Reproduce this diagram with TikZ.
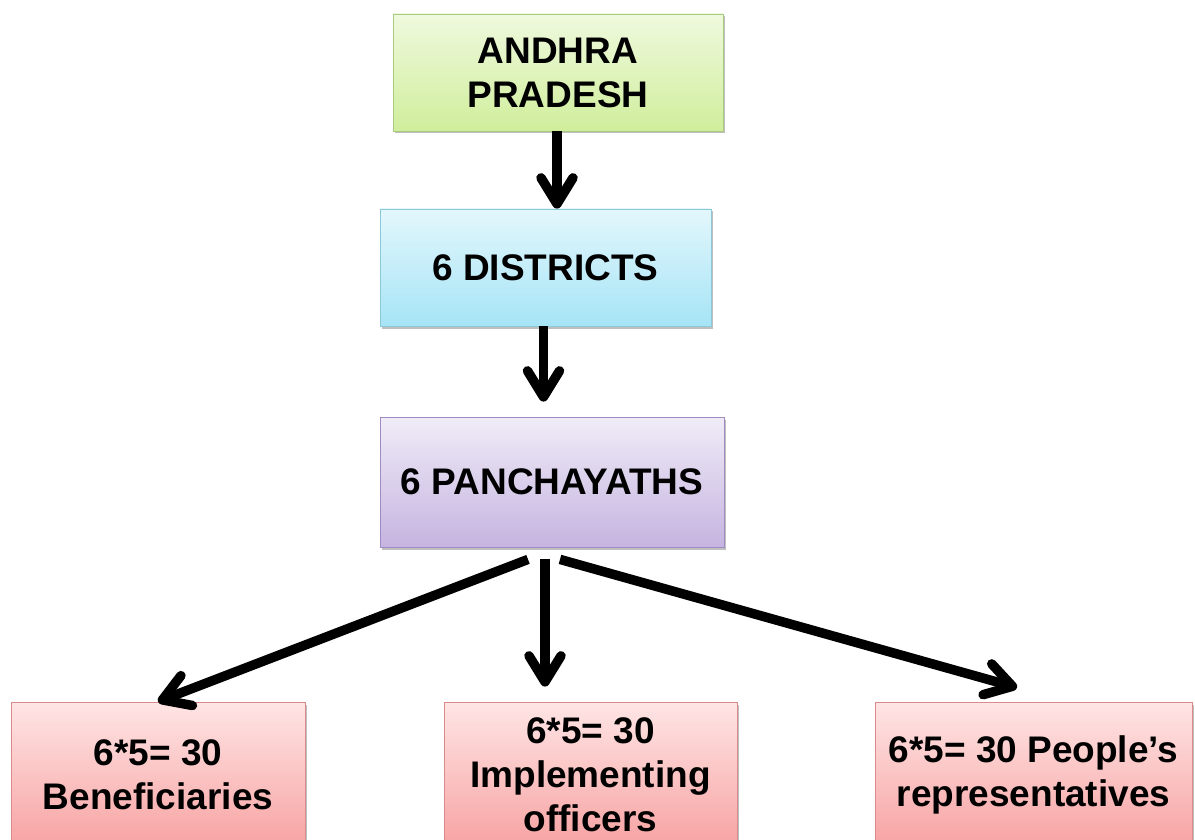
\documentclass[tikz,border=0pt]{standalone}
\usepackage{fontspec}
\setmainfont{Liberation Sans}
\usetikzlibrary{positioning, arrows.meta, shadows}

\definecolor{grTop}{HTML}{EFF9DE}
\definecolor{grBot}{HTML}{D0EE9C}
\definecolor{grLine}{HTML}{A9CB80}
\definecolor{blTop}{HTML}{E3F7FC}
\definecolor{blBot}{HTML}{A6E4F6}
\definecolor{blLine}{HTML}{8CC8DA}
\definecolor{puTop}{HTML}{F0ECF7}
\definecolor{puBot}{HTML}{C5B4E0}
\definecolor{puLine}{HTML}{9F8AC2}
\definecolor{rdTop}{HTML}{FFE5E5}
\definecolor{rdBot}{HTML}{F7A2A2}
\definecolor{rdLine}{HTML}{D98A8A}

\begin{document}
\begin{tikzpicture}[x=1pt, y=-1pt, font=\fontsize{37}{44}\selectfont\bfseries,
    box/.style={rectangle, inner sep=4pt, align=center, line width=0.8pt,
      drop shadow={shadow xshift=1.5pt, shadow yshift=-2.5pt, fill=black, opacity=0.25}},
    grbox/.style={box, draw=grLine, top color=grTop, bottom color=grBot},
    blbox/.style={box, draw=blLine, top color=blTop, bottom color=blBot},
    pubox/.style={box, draw=puLine, top color=puTop, bottom color=puBot},
    rdbox/.style={box, draw=rdLine, top color=rdTop, bottom color=rdBot, minimum height=146pt},
    arr/.style={line width=9.5pt, -{Straight Barb[length=26pt, width=32pt, round]}}]
    \path[use as bounding box, clip] (0,0) rectangle (1195,840);
    % three levels above the split
    \node[grbox, minimum width=330pt, minimum height=117pt] (ap) at (558,72.5) {ANDHRA\\PRADESH};
    \node[blbox, minimum width=331pt, minimum height=117pt] (dist) at (545.5,267.5) {6 DISTRICTS};
    \node[pubox, minimum width=344pt, minimum height=130pt] (panch) at (552,482) {6 PANCHAYATHS};
    % bottom row, cut by the lower edge
    \node[rdbox, minimum width=294pt] (benef) at (158,775) {6*5= 30\\Beneficiaries};
    \node[rdbox, minimum width=293pt] (offic) at (590.5,775) {6*5= 30\\Implementing\\officers};
    \node[rdbox, minimum width=317pt] (repr) at (1033.5,775) {6*5= 30 People’s\\representatives};
    \draw[arr] ([xshift=-1pt]ap.south) -- ([xshift=-1pt]ap.south |- dist.north);
    \draw[arr] ([xshift=-2pt]dist.south) -- ([xshift=-2pt,yshift=15pt]dist.south |- panch.north);
    \draw[arr] ([xshift=-24pt,yshift=-12pt]panch.south) -- (benef.north);
    \draw[arr] ([xshift=-7pt,yshift=-12pt]panch.south) -- ([xshift=-7pt,yshift=15pt]panch.south |- offic.north);
    \draw[arr] ([xshift=8pt,yshift=-12pt]panch.south) -- ([xshift=-16.5pt,yshift=14pt]repr.north);
  \end{tikzpicture}
\end{document}
